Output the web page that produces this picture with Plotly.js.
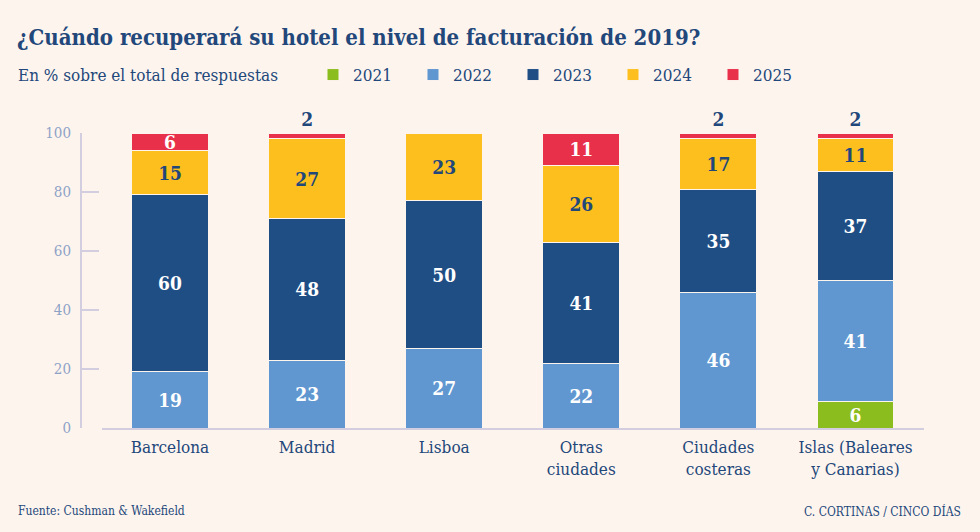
<!DOCTYPE html>
<html>
<head>
<meta charset="utf-8">
<script src="https://cdn.plot.ly/plotly-3.0.1.min.js"></script>
<style>
html,body{margin:0;padding:0;background:#fdf4ee;}
#chart{width:980px;height:532px;}
</style>
</head>
<body>
<div id="chart"></div>
<script>
const categories = ['Barcelona', 'Madrid', 'Lisboa', 'Otras<br>ciudades', 'Ciudades<br>costeras', 'Islas (Baleares<br>y Canarias)'];
const years = ['2021', '2022', '2023', '2024', '2025'];
const v2021 = [0, 0, 0, 0, 0, 9];
const labels2021 = ['', '', '', '', '', '6'];
const v2022 = [19, 23, 27, 22, 46, 41];
const v2023 = [60, 48, 50, 41, 35, 37];
const v2024 = [15, 27, 23, 26, 17, 11];
const v2025 = [6, 2, 0, 11, 2, 2];
const yTicks = [0, 20, 40, 60, 80, 100];

const FONT = '"DejaVu Serif Condensed", "Liberation Serif", serif';
const NAVY = '#22477a';
const BG = '#fdf4ee';
const colors = ['#8cbd1e', '#6197d0', '#1f4e85', '#fcbf1e', '#e8304b'];

function lbl(arr) { return arr.map(v => v > 0 ? String(v) : ''); }

const seriesVals = [v2021, v2022, v2023, v2024, v2025];
const seriesText = [labels2021, lbl(v2022), lbl(v2023), lbl(v2024), lbl(v2025)];
const textColors = [
  v2021.map(() => '#ffffff'),
  v2022.map(() => '#ffffff'),
  v2023.map(() => '#ffffff'),
  v2024.map(() => NAVY),
  v2025.map(v => v < 5 ? NAVY : '#ffffff')
];
const textPos = [
  v2021.map(() => 'inside'),
  v2022.map(() => 'inside'),
  v2023.map(() => 'inside'),
  v2024.map(() => 'inside'),
  v2025.map(v => v < 5 ? 'outside' : 'inside')
];

const traces = years.map((yr, i) => ({
  type: 'bar',
  name: yr,
  x: categories,
  y: seriesVals[i],
  text: seriesText[i],
  texttemplate: '%{text}',
  textposition: textPos[i],
  textangle: 0,
  insidetextanchor: 'middle',
  constraintext: 'none',
  cliponaxis: false,
  textfont: {family: FONT, size: 19, color: textColors[i], weight: 'bold'},
  outsidetextfont: {family: FONT, size: 19, color: NAVY, weight: 'bold'},
  insidetextfont: {family: FONT, size: 19, color: textColors[i], weight: 'bold'},
  marker: {color: colors[i], line: {color: BG, width: 1}},
  hoverinfo: 'skip'
}));

const layout = {
  width: 980,
  height: 532,
  paper_bgcolor: BG,
  plot_bgcolor: BG,
  barmode: 'stack',
  bargap: 0.44,
  margin: {l: 80, r: 56, t: 133, b: 104},
  font: {family: FONT, color: NAVY},
  title: {
    text: '<b>¿Cuándo recuperará su hotel el nivel de facturación de 2019?</b>',
    font: {family: FONT, size: 22, color: NAVY},
    x: 17 / 980, xanchor: 'left', xref: 'container',
    y: 1 - 37 / 532, yanchor: 'middle', yref: 'container',
    pad: {l: 0, r: 0, t: 0, b: 0}
  },
  showlegend: true,
  legend: {
    orientation: 'h',
    traceorder: 'normal',
    xref: 'container', yref: 'container',
    x: 313 / 980, xanchor: 'left',
    y: 1 - 75 / 532, yanchor: 'middle',
    entrywidth: 55,
    bgcolor: 'rgba(0,0,0,0)',
    font: {family: FONT, size: 17, color: NAVY}
  },
  xaxis: {
    domain: [21.5 / 844, 1],
    showline: true, linecolor: '#d3cde0', linewidth: 1.5,
    ticks: '', showgrid: false, zeroline: false,
    ticklabelstandoff: 3,
    tickfont: {family: FONT, size: 17, color: NAVY},
    fixedrange: true
  },
  yaxis: {
    anchor: 'free', position: 0,
    range: [0, 100],
    tickvals: yTicks,
    ticktext: yTicks.map(String),
    ticks: 'inside', ticklen: 17, tickcolor: '#d3cde0', tickwidth: 1.5,
    showline: true, linecolor: '#d3cde0', linewidth: 1.5,
    showgrid: false, zeroline: false,
    ticklabelstandoff: 6,
    tickfont: {family: FONT, size: 15, color: '#8ea2c6'},
    fixedrange: true
  },
  annotations: [
    {text: 'En % sobre el total de respuestas', xref: 'paper', yref: 'paper',
     x: -64 / 844, xanchor: 'left', y: 1 + (133 - 75) / 295, yanchor: 'middle',
     showarrow: false, font: {family: FONT, size: 17, color: NAVY}},
    {text: 'Fuente: Cushman & Wakefield', xref: 'paper', yref: 'paper',
     x: -64 / 844, xanchor: 'left', y: -(511 - 428) / 295, yanchor: 'middle',
     showarrow: false, font: {family: FONT, size: 12, color: NAVY}},
    {text: 'C. CORTINAS / CINCO DÍAS', xref: 'paper', yref: 'paper',
     x: (963 - 80) / 844, xanchor: 'right', y: -(511 - 428) / 295, yanchor: 'middle',
     showarrow: false, font: {family: FONT, size: 12, color: NAVY}}
  ]
};

Plotly.newPlot('chart', traces, layout, {displayModeBar: false, staticPlot: true});
</script>
</body>
</html>
